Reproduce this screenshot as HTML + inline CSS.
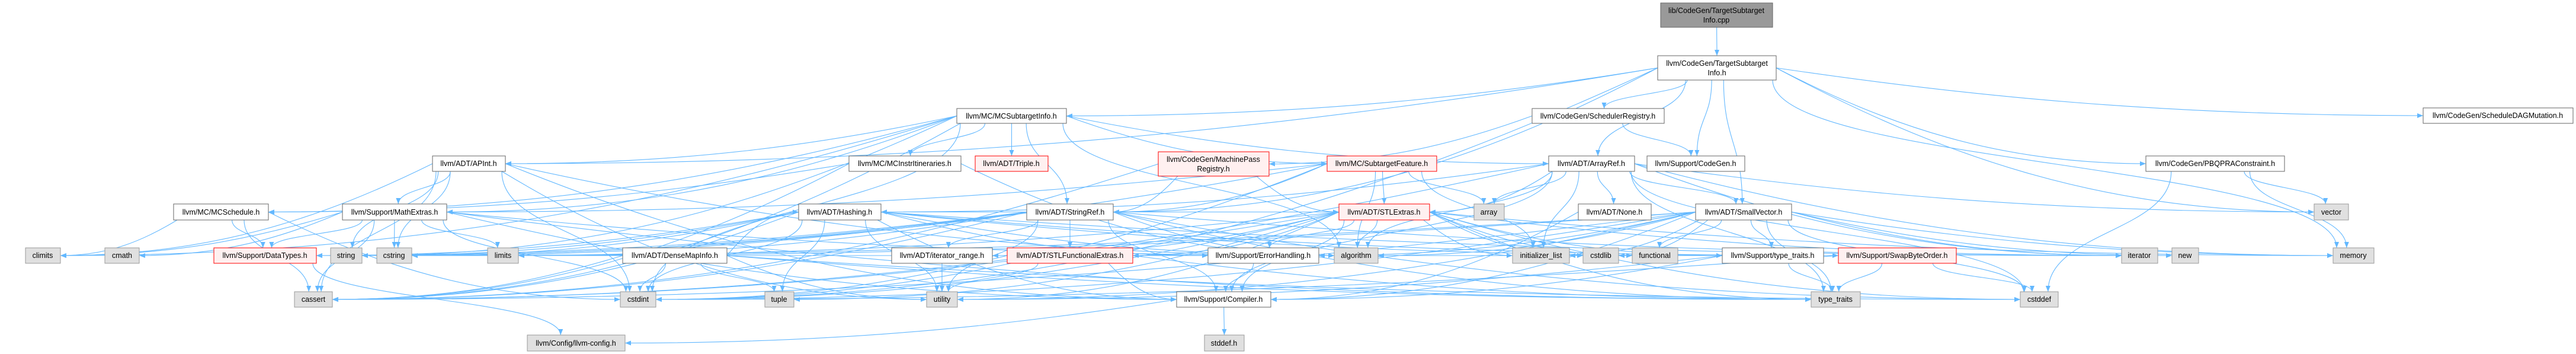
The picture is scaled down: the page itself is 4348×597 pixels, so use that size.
<!DOCTYPE html>
<html><head><meta charset="utf-8">
<style>
html,body{margin:0;padding:0;background:#fff;}
svg{display:block;}
text{font-family:"Liberation Sans",Arial,sans-serif;font-size:12.5px;fill:#000;text-anchor:middle;}
.w{fill:#fff;stroke:#666;stroke-width:1;}
.g{fill:#e0e0e0;stroke:#999;stroke-width:1;}
.r{fill:#fff0f0;stroke:#f00;stroke-width:1;}
.d{fill:#999;stroke:#666;stroke-width:1;}
#E path{fill:none;stroke:#63b8ff;stroke-width:1.1;}
</style></head>
<body>
<svg id="S" width="4348" height="597" viewBox="0 0 4348 597" xmlns="http://www.w3.org/2000/svg">
<defs><marker id="a" markerUnits="userSpaceOnUse" markerWidth="11" markerHeight="8" refX="10" refY="4" orient="auto"><path d="M0,0 L10,4 L0,8 z" fill="#63b8ff"/></marker></defs>
<g id="E"></g>
<g id="N">
<rect class="d" x="2803" y="5" width="189" height="41"/><text x="2897" y="22">lib/CodeGen/TargetSubtarget</text><text x="2897" y="38">Info.cpp</text>
<rect class="w" x="2798" y="94" width="200" height="41"/><text x="2898" y="111">llvm/CodeGen/TargetSubtarget</text><text x="2898" y="127">Info.h</text>
<rect class="w" x="1615" y="183" width="185" height="25"/><text x="1707" y="200">llvm/MC/MCSubtargetInfo.h</text>
<rect class="w" x="2586" y="183" width="223" height="25"/><text x="2697" y="200">llvm/CodeGen/SchedulerRegistry.h</text>
<rect class="w" x="4090" y="182" width="253" height="26"/><text x="4216" y="199">llvm/CodeGen/ScheduleDAGMutation.h</text>
<rect class="w" x="730" y="263" width="123" height="26"/><text x="791" y="280">llvm/ADT/APInt.h</text>
<rect class="w" x="1433" y="263" width="189" height="26"/><text x="1527" y="280">llvm/MC/MCInstrItineraries.h</text>
<rect class="r" x="1646" y="263" width="123" height="26"/><text x="1707" y="280">llvm/ADT/Triple.h</text>
<rect class="r" x="1955" y="256" width="187" height="41"/><text x="2048" y="273">llvm/CodeGen/MachinePass</text><text x="2048" y="289">Registry.h</text>
<rect class="r" x="2240" y="263" width="185" height="26"/><text x="2332" y="280">llvm/MC/SubtargetFeature.h</text>
<rect class="w" x="2614" y="263" width="145" height="26"/><text x="2686" y="280">llvm/ADT/ArrayRef.h</text>
<rect class="w" x="2780" y="263" width="165" height="26"/><text x="2862" y="280">llvm/Support/CodeGen.h</text>
<rect class="w" x="3622" y="263" width="234" height="26"/><text x="3739" y="280">llvm/CodeGen/PBQPRAConstraint.h</text>
<rect class="w" x="293" y="344" width="160" height="27"/><text x="373" y="362">llvm/MC/MCSchedule.h</text>
<rect class="w" x="578" y="344" width="176" height="27"/><text x="666" y="362">llvm/Support/MathExtras.h</text>
<rect class="w" x="1348" y="344" width="139" height="27"/><text x="1417" y="362">llvm/ADT/Hashing.h</text>
<rect class="w" x="1733" y="344" width="146" height="27"/><text x="1806" y="362">llvm/ADT/StringRef.h</text>
<rect class="r" x="2260" y="344" width="153" height="27"/><text x="2336" y="362">llvm/ADT/STLExtras.h</text>
<rect class="g" x="2488" y="344" width="51" height="27"/><text x="2513" y="362">array</text>
<rect class="w" x="2664" y="344" width="123" height="27"/><text x="2725" y="362">llvm/ADT/None.h</text>
<rect class="w" x="2862" y="344" width="162" height="27"/><text x="2943" y="362">llvm/ADT/SmallVector.h</text>
<rect class="g" x="3906" y="344" width="58" height="27"/><text x="3935" y="362">vector</text>
<rect class="g" x="43" y="418" width="59" height="26"/><text x="72" y="435">climits</text>
<rect class="g" x="177" y="418" width="58" height="26"/><text x="206" y="435">cmath</text>
<rect class="r" x="361" y="418" width="173" height="26"/><text x="447" y="435">llvm/Support/DataTypes.h</text>
<rect class="g" x="558" y="418" width="53" height="26"/><text x="584" y="435">string</text>
<rect class="g" x="636" y="418" width="59" height="26"/><text x="665" y="435">cstring</text>
<rect class="g" x="823" y="418" width="52" height="26"/><text x="849" y="435">limits</text>
<rect class="w" x="1051" y="418" width="176" height="26"/><text x="1139" y="435">llvm/ADT/DenseMapInfo.h</text>
<rect class="w" x="1505" y="418" width="170" height="26"/><text x="1590" y="435">llvm/ADT/iterator_range.h</text>
<rect class="r" x="1700" y="418" width="212" height="26"/><text x="1806" y="435">llvm/ADT/STLFunctionalExtras.h</text>
<rect class="w" x="2039" y="418" width="187" height="26"/><text x="2132" y="435">llvm/Support/ErrorHandling.h</text>
<rect class="g" x="2252" y="418" width="74" height="26"/><text x="2289" y="435">algorithm</text>
<rect class="g" x="2553" y="418" width="96" height="26"/><text x="2601" y="435">initializer_list</text>
<rect class="g" x="2672" y="418" width="60" height="26"/><text x="2702" y="435">cstdlib</text>
<rect class="g" x="2755" y="418" width="77" height="26"/><text x="2793" y="435">functional</text>
<rect class="w" x="2907" y="418" width="171" height="26"/><text x="2992" y="435">llvm/Support/type_traits.h</text>
<rect class="r" x="3103" y="418" width="199" height="26"/><text x="3202" y="435">llvm/Support/SwapByteOrder.h</text>
<rect class="g" x="3581" y="418" width="61" height="26"/><text x="3611" y="435">iterator</text>
<rect class="g" x="3666" y="418" width="45" height="26"/><text x="3688" y="435">new</text>
<rect class="g" x="3938" y="418" width="69" height="26"/><text x="3972" y="435">memory</text>
<rect class="g" x="497" y="492" width="64" height="26"/><text x="529" y="509">cassert</text>
<rect class="g" x="1047" y="492" width="60" height="26"/><text x="1077" y="509">cstdint</text>
<rect class="g" x="1291" y="492" width="49" height="26"/><text x="1315" y="509">tuple</text>
<rect class="g" x="1564" y="492" width="52" height="26"/><text x="1590" y="509">utility</text>
<rect class="w" x="1986" y="492" width="159" height="26"/><text x="2065" y="509">llvm/Support/Compiler.h</text>
<rect class="g" x="3057" y="492" width="83" height="26"/><text x="3098" y="509">type_traits</text>
<rect class="g" x="3410" y="492" width="64" height="26"/><text x="3442" y="509">cstddef</text>
<rect class="g" x="890" y="565" width="165" height="27"/><text x="972" y="583">llvm/Config/llvm-config.h</text>
<rect class="g" x="2033" y="565" width="67" height="27"/><text x="2066" y="583">stddef.h</text>
</g>
</svg>
<script>
var N={TOP:[2803,5,2992,46],TSI:[2798,94,2998,135],MCSI:[1615,183,1800,208],SR:[2586,183,2809,208],SDM:[4090,182,4343,208],
APInt:[730,263,853,289],MII:[1433,263,1622,289],Triple:[1646,263,1769,289],MPR:[1955,256,2142,297],SF:[2240,263,2425,289],
AR:[2614,263,2759,289],CG:[2780,263,2945,289],PBQ:[3622,263,3856,289],MCS:[293,344,453,371],ME:[578,344,754,371],
HA:[1348,344,1487,371],SRf:[1733,344,1879,371],STL:[2260,344,2413,371],array:[2488,344,2539,371],None:[2664,344,2787,371],
SV:[2862,344,3024,371],vector:[3906,344,3964,371],climits:[43,418,102,444],cmath:[177,418,235,444],DT:[361,418,534,444],
string:[558,418,611,444],cstring:[636,418,695,444],limits:[823,418,875,444],DMI:[1051,418,1227,444],IR:[1505,418,1675,444],
SFE:[1700,418,1912,444],EH:[2039,418,2226,444],algorithm:[2252,418,2326,444],il:[2553,418,2649,444],cstdlib:[2672,418,2732,444],
functional:[2755,418,2832,444],TTH:[2907,418,3078,444],SBO:[3103,418,3302,444],iterator:[3581,418,3642,444],newh:[3666,418,3711,444],
memory:[3938,418,4007,444],cassert:[497,492,561,518],cstdint:[1047,492,1107,518],tuple:[1291,492,1340,518],utility:[1564,492,1616,518],
Comp:[1986,492,2145,518],tt:[3057,492,3140,518],cstddef:[3410,492,3474,518],cfg:[890,565,1055,592],stddef:[2033,565,2100,592]};
var E="TOP>TSI;TSI>MCSI,SR,SDM,PBQ,AR,CG,SRf,SV,vector,memory,APInt,cstdint;"+
"MCSI>MII,Triple,SRf,SF,AR,MCS,APInt,string,cassert,cstdint,algorithm,climits,ME;"+
"SR>MPR,CG;MPR>SRf,STL,cassert;SF>STL,SRf,ME,array,il,cstdint,string,algorithm;"+
"AR>STL,array,None,SV,HA,cassert,vector,memory,algorithm,il,iterator,tt,cstddef,Comp;"+
"PBQ>vector,memory,cstddef;APInt>ME,Comp,cassert,climits,cstring,utility,cstdint,string,algorithm,optional;"+
"MII>MCS,algorithm,cassert;MCS>DT,cassert,climits,cstdint;"+
"ME>DT,climits,cmath,cstring,limits,cassert,cstdint,tt,Comp,algorithm;"+
"HA>DT,EH,SBO,TTH,string,tuple,utility,cassert,algorithm,cstring,iterator,Comp,cstdint;"+
"SRf>IR,SFE,DT,Comp,cstring,string,limits,algorithm,cassert,cstddef,tt,utility,iterator;"+
"STL>SFE,IR,EH,algorithm,il,cstdlib,functional,Comp,TTH,cassert,cstddef,cstdint,iterator,limits,memory,tuple,tt,utility,HA;"+
"None>Comp;SV>Comp,TTH,EH,algorithm,cassert,cstddef,cstdlib,cstring,functional,il,iterator,limits,memory,newh,tt,utility,cstdint;"+
"DMI>HA,cassert,cstddef,cstdint,tuple,tt,utility;IR>utility;SFE>utility,tt,Comp,cstdint;EH>Comp;"+
"TTH>tt,utility,Comp;SBO>tt,cstddef,cstdint,DT;Comp>cfg,stddef;DT>cfg";
var g=document.getElementById("E"),ns="http://www.w3.org/2000/svg";
function cl(v,a,b){return Math.max(a,Math.min(b,v));}
E.split(";").forEach(function(grp){var p=grp.split(">"),s=N[p[0]];if(!s)return;
p[1].split(",").forEach(function(tn){var t=N[tn];if(!t)return;
var scx=(s[0]+s[2])/2,tcx=(t[0]+t[2])/2;
var sx=cl(scx+(tcx-scx)*0.25,s[0]+6,s[2]-6),sy=s[3];
var tx=cl(tcx+(scx-tcx)*0.05,t[0]+6,t[2]-6),ty=t[1];
var dy=ty-sy,d;
if(Math.abs(tx-sx)>3.5*dy){var sg=sx<t[0]?1:-1;tx=sg>0?t[0]:t[2];ty=(t[1]+t[3])/2;dy=ty-sy;
 if(Math.abs(tx-sx)>3.5*(t[1]-s[1])){sx=sg>0?s[2]:s[0];sy=(s[1]+s[3])/2;}
 var dx=tx-sx;
 d="M"+sx+","+sy+" C"+(sx+dx*0.3)+","+(sy+(ty-sy)*0.6)+" "+(tx-dx*0.4)+","+ty+" "+tx+","+ty;}
else{d="M"+sx+","+sy+" C"+sx+","+(sy+dy*0.5)+" "+tx+","+(ty-dy*0.5)+" "+tx+","+ty;}
var e=document.createElementNS(ns,"path");e.setAttribute("d",d);e.setAttribute("marker-end","url(#a)");g.appendChild(e);});});
</script>
</body></html>
